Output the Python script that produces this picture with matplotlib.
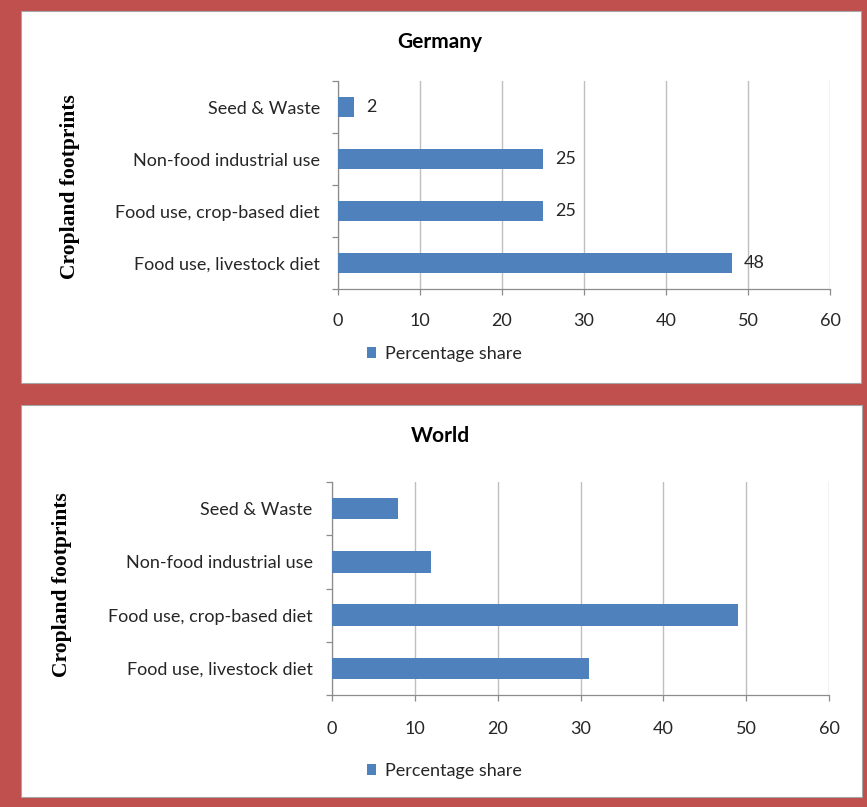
import matplotlib
matplotlib.use("Agg")
import matplotlib.pyplot as plt
from matplotlib.patches import Rectangle

plt.rcParams['font.family'] = ['Lato', 'DejaVu Sans']

categories = ["Food use, livestock diet", "Food use, crop-based diet",
              "Non-food industrial use", "Seed & Waste"]
germany_values = [48, 25, 25, 2]
world_values = [31, 49, 12, 8]
xticks = [0, 10, 20, 30, 40, 50, 60]

BAR = '#4F81BD'
FRAME = '#C0504D'
GRID = '#BFBFBF'
TXT = '#262626'
FS = 13

W, H = 867, 807
fig = plt.figure(figsize=(W / 100, H / 100), dpi=100)
fig.patch.set_facecolor(FRAME)


def fx(px):
    return px / W


def fy(py):
    return 1 - py / H


# white chart panels, kept underneath the axes
for (x0, y0, x1, y1) in [(21, 11, 861, 383), (21, 405, 862, 797)]:
    fig.patches.append(Rectangle((fx(x0), fy(y1)), fx(x1 - x0), (y1 - y0) / H,
                                 transform=fig.transFigure, facecolor='white',
                                 edgecolor='#A6A6A6', linewidth=0.8, zorder=-5))


def panel(values, title, ax_px, title_y, ylab_xy, legend_y, tick_pad, x_pad, show_labels):
    left, top, right, bottom = ax_px
    ax = fig.add_axes([fx(left), fy(bottom), fx(right - left), (bottom - top) / H])
    ax.set_facecolor('none')
    y = list(range(len(categories)))
    bars = ax.barh(y, values, height=0.4, color=BAR, zorder=3, label='Percentage share')
    ax.set_xlim(0, 60)
    ax.set_ylim(-0.5, len(categories) - 0.5)
    ax.set_xticks(xticks)
    ax.set_yticks(y)
    ax.set_yticklabels(categories)
    ax.set_yticks([i - 0.5 for i in range(len(categories) + 1)], minor=True)
    ax.tick_params(axis='y', which='major', length=0, pad=tick_pad,
                   labelsize=FS, labelcolor=TXT)
    ax.tick_params(axis='y', which='minor', length=4, color='#8C8C8C', width=0.9)
    ax.tick_params(axis='x', which='major', length=4, color='#8C8C8C', width=0.9,
                   pad=x_pad, labelsize=FS, labelcolor=TXT)
    ax.grid(axis='x', color=GRID, linewidth=1.0, zorder=0)
    for s in ['top', 'right']:
        ax.spines[s].set_visible(False)
    for s in ['left', 'bottom']:
        ax.spines[s].set_color('#8C8C8C')
        ax.spines[s].set_linewidth(0.9)
    if show_labels:
        ax.bar_label(bars, labels=[str(v) for v in values], padding=8.5,
                     fontsize=FS, color=TXT)
    fig.text(fx(440), fy(title_y), title, ha='center', va='center',
             fontsize=15, fontweight='bold', color='black')
    fig.text(fx(ylab_xy[0]), fy(ylab_xy[1]), "Cropland footprints", rotation=90,
             ha='center', va='center', fontsize=15.5, fontweight='bold',
             family=['Liberation Serif', 'DejaVu Serif'], color='black')
    ax.legend(loc='center', bbox_to_anchor=(fx(444), fy(legend_y)),
              bbox_transform=fig.transFigure, frameon=False, fontsize=FS,
              handlelength=0.55, handleheight=0.55, handletextpad=0.45,
              labelcolor=TXT)
    return ax


panel(germany_values, "Germany", (338, 81, 830, 289), 42, (70, 187), 354, 13, 13, True)
panel(world_values, "World", (332, 482, 829, 695), 436, (62, 585), 771, 14, 15, False)

fig.savefig("out.png", dpi=100, facecolor=fig.get_facecolor())
